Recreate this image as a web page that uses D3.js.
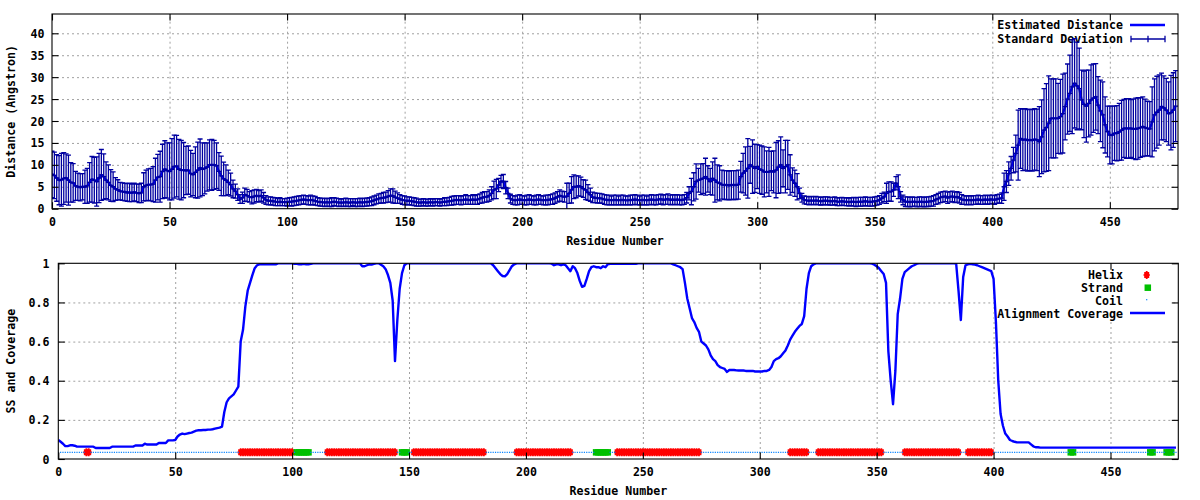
<!DOCTYPE html>
<html><head><meta charset="utf-8">
<script src="https://cdn.jsdelivr.net/npm/d3@7"></script>
<style>
body{margin:0;background:#fff}
svg{display:block}
text{font-family:"DejaVu Sans Mono",monospace;font-weight:bold;font-size:11.6px;fill:#000}
</style></head><body>
<svg id="c" width="1200" height="500"></svg>
<script>
// ---------------- DATA ----------------
const xTicks = [0,50,100,150,200,250,300,350,400,450];
const yTicksTop = [0,5,10,15,20,25,30,35,40];
const yTicksBot = [0,0.2,0.4,0.6,0.8,1];
const yTickLabelsBot = ["0","0.2","0.4","0.6","0.8","1"];

// estimated distance per residue (0..478)
const dist = [7.8,7.6,7.0,6.5,6.6,6.9,7.0,6.5,6.0,5.9,
5.2,5.0,4.9,5.0,5.0,5.2,6.0,6.7,6.5,6.2,
7.0,7.7,7.3,6.5,6.0,5.3,5.0,4.5,4.3,4.0,
3.9,3.8,3.7,3.7,3.6,3.8,3.6,3.5,3.6,5.0,
5.3,5.5,5.5,5.6,6.5,7.2,7.3,8.5,9.0,8.7,
8.5,9.0,9.6,9.7,9.0,8.8,8.8,8.7,8.8,8.0,
7.8,8.3,8.8,9.3,9.0,9.2,9.5,10.0,10.0,10.0,
9.8,8.5,7.5,6.8,6.5,6.0,5.5,4.5,4.0,3.2,
2.2,2.5,3.2,3.0,2.7,2.6,2.8,3.0,2.8,3.0,
2.5,2.0,1.8,1.8,1.7,1.6,1.5,1.6,1.5,1.5,
1.5,1.6,1.6,1.7,1.8,1.9,2.0,2.1,2.0,1.9,
2.0,1.9,1.8,1.6,1.5,1.5,1.4,1.5,1.4,1.5,
1.6,1.5,1.4,1.4,1.4,1.5,1.4,1.4,1.5,1.4,
1.4,1.5,1.4,1.5,1.5,1.6,1.7,1.9,2.1,2.3,
2.4,2.5,2.6,2.8,3.0,2.9,2.6,2.4,2.2,2.0,
1.9,1.8,1.8,1.7,1.6,1.5,1.4,1.4,1.5,1.4,
1.4,1.5,1.4,1.5,1.5,1.4,1.5,1.6,1.6,1.7,
1.8,1.9,2.0,2.0,1.9,2.0,2.1,2.0,2.0,2.1,
2.0,2.1,2.3,2.5,2.7,2.7,3.0,3.5,4.3,4.5,
5.4,6.2,6.2,4.8,3.5,2.3,2.0,1.9,2.0,2.1,
2.0,1.9,2.0,2.1,2.0,1.9,2.0,2.1,2.0,1.9,
2.0,2.0,2.1,2.2,2.4,2.7,3.0,2.8,2.7,2.8,
3.5,4.3,5.0,5.0,5.2,5.0,4.6,4.3,3.7,3.2,
2.6,2.5,2.4,2.4,2.3,2.1,2.0,2.0,1.9,2.0,
2.0,1.9,2.0,2.0,1.9,1.9,2.0,2.0,2.1,2.0,
1.9,2.0,2.0,1.9,2.0,2.1,2.0,2.0,2.1,2.2,
2.0,2.1,2.2,2.0,2.1,2.0,2.1,2.0,2.0,2.1,
2.5,3.5,3.9,5.0,6.2,6.5,6.7,6.9,7.3,6.8,
6.2,6.9,6.5,6.0,5.8,5.5,5.4,5.4,5.3,5.4,
5.4,5.4,5.5,7.3,8.1,8.6,9.2,10.0,9.6,9.2,
9.6,9.0,8.8,8.4,8.4,8.4,8.6,8.4,8.8,9.5,
10.0,9.2,9.6,10.0,7.7,6.5,5.8,5.0,3.5,2.5,
2.0,1.9,1.8,1.9,1.8,1.9,1.8,1.7,1.8,1.8,
1.8,1.7,1.7,1.8,1.6,1.6,1.7,1.6,1.6,1.5,
1.6,1.6,1.5,1.6,1.6,1.6,1.7,1.6,1.6,1.6,
1.7,1.8,2.0,2.4,2.7,3.5,3.9,3.9,4.3,5.8,
5.0,2.7,2.0,1.6,1.6,1.5,1.6,1.6,1.5,1.6,
1.6,1.5,1.6,1.6,1.7,1.8,2.1,2.3,2.6,2.7,
2.8,2.5,2.7,2.8,2.6,2.7,2.5,2.1,2.0,1.9,
2.0,1.9,2.0,2.0,2.1,2.0,2.0,2.1,2.0,2.1,
2.1,2.0,2.2,2.3,2.4,5.0,6.2,8.0,9.2,11.1,
12.6,14.5,16.0,15.7,15.8,15.6,15.7,15.6,15.8,15.7,
15.3,16.4,17.9,18.5,19.5,20.6,20.6,20.6,20.6,21.0,
21.7,23.3,25.0,26.3,27.8,28.6,28.0,27.4,24.8,23.8,
23.4,24.0,24.8,25.2,25.5,23.6,22.3,21.4,19.1,17.6,
16.8,16.8,17.2,17.2,17.5,17.9,18.3,18.3,18.3,18.3,
18.2,18.2,18.3,18.5,18.7,18.5,18.3,18.2,19.8,21.4,
22.0,22.5,23.3,23.0,22.5,21.7,21.9,22.5,23.4];

// standard deviation per residue
const sdev = [5.3,5.3,5.3,5.6,6.0,5.9,5.5,5.7,4.5,4.4,
3.3,3.1,3.1,3.0,3.8,4.0,4.5,5.2,5.2,5.6,
5.6,5.8,5.2,4.2,4.0,3.6,3.4,2.6,2.3,2.0,
2.0,2.0,2.0,2.1,2.0,2.0,2.0,2.1,2.2,3.2,
3.5,3.6,3.7,4.0,5.0,5.2,5.8,6.2,6.5,6.3,
6.5,7.0,7.2,7.0,6.8,6.8,6.3,5.5,5.5,5.3,
4.8,5.8,6.4,6.6,6.0,5.8,5.5,5.7,5.8,5.6,
5.2,4.3,4.5,3.8,3.5,2.8,2.6,2.0,1.6,1.3,
1.0,1.3,1.5,1.4,1.2,1.5,1.5,1.4,1.3,1.3,
1.2,1.0,0.9,0.9,0.9,0.9,0.8,0.9,0.8,0.8,
0.9,0.9,1.0,1.0,1.0,1.0,1.0,1.0,1.0,1.0,
1.1,1.0,1.0,0.9,0.9,0.9,0.9,0.9,0.9,1.0,
0.9,0.9,0.9,0.8,0.9,0.9,0.9,0.9,0.8,0.9,
0.9,0.9,0.9,0.9,0.9,0.9,1.0,1.0,1.0,1.1,
1.1,1.2,1.2,1.3,1.5,1.6,1.4,1.2,1.0,1.0,
1.0,0.9,0.9,0.9,0.9,0.9,0.8,0.8,0.8,0.8,
0.8,0.8,0.8,0.8,0.8,0.8,0.8,0.9,0.9,0.9,
1.0,1.0,1.0,1.0,1.0,1.0,1.1,1.0,1.0,1.1,
1.0,1.1,1.1,1.2,1.2,1.2,1.3,1.5,2.0,2.2,
1.5,1.4,1.6,1.4,1.2,1.0,1.0,1.0,1.1,1.1,
1.0,1.0,1.1,1.1,1.0,1.0,1.1,1.1,1.0,1.0,
1.1,1.1,1.1,1.2,1.2,1.2,1.3,1.2,1.2,3.0,
2.3,3.0,2.7,2.5,2.3,2.2,2.0,2.2,1.8,1.5,
1.2,1.1,1.1,1.1,1.1,1.1,1.1,1.1,1.0,1.1,
1.1,1.0,1.1,1.1,1.0,1.0,1.1,1.1,1.1,1.1,
1.0,1.1,1.1,1.0,1.1,1.1,1.1,1.1,1.1,1.1,
1.1,1.1,1.2,1.1,1.1,1.1,1.1,1.1,1.1,1.1,
1.2,1.5,3.0,3.2,4.0,2.7,3.5,3.4,4.2,3.0,
3.0,3.8,5.0,4.0,4.0,3.3,3.3,3.3,3.3,3.3,
3.3,3.3,3.3,3.5,4.5,5.5,6.8,4.2,6.1,5.5,
5.0,5.5,5.5,5.7,4.8,5.6,4.5,4.8,6.3,6.0,
6.4,4.2,6.0,5.6,4.6,2.8,3.0,3.0,1.2,1.0,
0.9,0.9,0.9,0.9,0.9,0.9,0.9,0.9,0.9,0.9,
0.9,0.9,0.9,0.9,0.9,0.9,0.9,0.9,0.9,0.9,
0.9,1.0,1.0,1.0,1.0,1.0,1.0,1.0,1.0,1.0,
1.0,1.0,1.0,1.1,1.1,2.3,2.2,2.2,1.5,1.5,
2.7,1.2,1.1,1.1,1.1,1.1,1.1,1.0,1.1,1.1,
1.1,1.1,1.1,1.1,1.1,1.2,1.1,1.2,1.2,1.2,
1.2,1.3,1.2,1.2,1.2,1.2,1.2,1.1,1.0,1.0,
1.0,1.0,1.0,1.0,1.0,1.0,1.0,1.0,1.0,1.0,
1.0,1.0,1.0,1.0,1.2,3.1,2.5,2.7,2.7,2.9,
4.2,8.0,6.8,7.0,7.0,7.0,7.0,7.0,7.0,7.0,
8.0,8.4,9.5,10.0,10.8,9.0,9.0,9.0,8.0,8.5,
9.0,7.6,8.0,8.7,10.7,10.2,10.0,9.2,6.8,7.6,
8.2,7.6,8.0,7.8,7.6,6.5,7.0,7.5,6.4,5.8,
6.6,6.6,6.2,6.3,6.5,6.8,6.6,6.8,6.8,6.6,
6.8,7.0,7.0,6.8,6.8,6.5,6.2,6.2,8.0,8.2,
8.2,8.0,7.6,7.3,7.2,7.2,8.5,8.5,8.1];

// alignment coverage per residue
const coverage = [.097,.088,.078,.066,.066,.070,.070,.068,.063,.063,
.063,.063,.063,.063,.063,.063,.056,.056,.056,.056,
.056,.056,.056,.063,.063,.063,.063,.063,.063,.063,
.063,.063,.063,.069,.069,.069,.069,.078,.074,.074,
.074,.074,.074,.082,.082,.082,.082,.095,.095,.095,
.097,.115,.125,.130,.127,.130,.133,.135,.140,.145,
.147,.147,.148,.148,.150,.150,.152,.155,.158,.160,
.165,.240,.290,.310,.320,.330,.350,.370,.600,.660,
.780,.860,.900,.940,.975,.990,.995,.995,.995,.995,
.995,.995,.995,.995,1,1,1,1,1,1,
1,.997,.997,.995,.995,.997,.995,.995,.997,1,
1,1,1,1,1,1,1,1,1,1,
1,1,1,1,1,1,1,1,1,1,
.985,.985,.990,.995,.993,.997,1,1,.993,.985,
.970,.940,.900,.810,.500,.710,.870,.950,.990,1,
1,1,1,1,1,1,1,1,1,1,
1,1,1,1,1,1,1,1,1,1,
1,1,1,1,1,1,1,1,1,1,
1,1,1,1,1,1,.990,.975,.960,.945,
.935,.933,.945,.965,.985,.995,1,1,1,1,
1,1,1,1,1,1,1,1,1,1,
1,.998,.990,.995,.995,.990,.995,.990,.975,.960,
.985,.975,.950,.910,.880,.885,.920,.960,.980,.985,
.980,.980,.975,.985,.980,.995,.997,.997,.997,.997,
.997,.997,.997,.997,.997,.997,.997,.997,1,1,
1,1,1,1,1,1,1,1,1,1,
1,1,1,.995,.990,.985,.980,.970,.900,.820,
.770,.720,.700,.670,.650,.600,.590,.580,.560,.530,
.510,.500,.480,.470,.465,.460,.445,.455,.455,.455,
.453,.452,.452,.452,.450,.450,.450,.450,.447,.447,
.447,.447,.450,.450,.455,.470,.500,.510,.515,.525,
.540,.555,.580,.610,.630,.650,.665,.680,.690,.730,
.870,.950,.985,.995,1,1,1,1,1,1,
1,1,1,1,1,1,1,1,1,1,
1,1,1,1,1,1,1,1,.998,.993,
.985,.975,.960,.945,.900,.550,.400,.280,.450,.740,
.820,.920,.955,.965,.975,.985,.990,.997,1,1,
1,1,1,1,1,1,1,1,1,1,
1,1,1,1,.998,.860,.710,.930,.990,.995,
.997,.995,.993,.990,.985,.980,.975,.970,.965,.960,
.920,.700,.400,.230,.170,.130,.115,.097,.092,.088,
.085,.085,.085,.085,.085,.085,.075,.065,.060,.060,
.058,.058,.058,.058,.058,.058,.058,.058,.058,.058,
.058,.058,.058,.058,.058,.058,.058,.058,.058,.058,
.058,.058,.058,.058,.058,.058,.058,.058,.058,.058,
.058,.058,.058,.058,.058,.058,.058,.058,.058,.058,
.058,.058,.058,.058,.058,.058,.058,.058,.058,.058,
.058,.058,.058,.058,.058,.058,.058,.058,.058];

// secondary structure segments [first residue, last residue]
const helixSegments = [[12,13],[78,100],[115,144],[152,182],[196,219],[239,274],[313,320],[325,352],[362,385],[389,399]];
const strandSegments = [[102,107],[147,149],[230,235],[433,434],[467,468],[474,476]];
const ssLevel = 0.034;

// ---------------- DRAW ----------------
const svg = d3.select('#c');
svg.append('rect').attr('width',1200).attr('height',500).attr('fill','#fff');

const xT = d3.scaleLinear().domain([0,479]).range([52,1178]);
const yT = d3.scaleLinear().domain([0,44.4]).range([208.7,14]);
const xB = d3.scaleLinear().domain([0,479]).range([58.3,1178.3]);
const yB = d3.scaleLinear().domain([0,1]).range([459,263.3]);

const GRID = '#a0a0a0';
const TICK = 6.5;

function grid(x, y, yt) {
  const [x0,x1] = x.range(), [y0,y1] = y.range();
  const g = svg.append('g');
  g.append('g').attr('transform',`translate(0,${y0})`)
    .call(d3.axisBottom(x).tickValues(xTicks.filter(v => x(v) > x0+1 && x(v) < x1-1)).tickSize(-(y0-y1)).tickFormat(''));
  g.append('g').attr('transform',`translate(${x0},0)`)
    .call(d3.axisLeft(y).tickValues(yt.filter(v => y(v) < y0-1 && y(v) > y1+1)).tickSize(-(x1-x0)).tickFormat(''));
  g.selectAll('.domain').remove();
  g.selectAll('line').attr('stroke',GRID).attr('stroke-width',1).attr('stroke-dasharray','2,3');
}

function axes(x, y, yt, yLabels, yLabelX, xLabelY) {
  const [x0,x1] = x.range(), [y0,y1] = y.range();
  const g = svg.append('g');
  const style = sel => { sel.select('.domain').remove(); sel.selectAll('line').attr('stroke','#000').attr('stroke-width',1.1); };
  const b = g.append('g').attr('transform',`translate(0,${y0})`).call(d3.axisBottom(x).tickValues(xTicks).tickSize(-TICK).tickFormat(d3.format('d')));
  b.call(style);
  b.selectAll('text').attr('y', xLabelY - y0).attr('dy','0.35em').attr('fill','#000');
  const t = g.append('g').attr('transform',`translate(0,${y1})`).call(d3.axisTop(x).tickValues(xTicks).tickSize(-TICK).tickFormat(''));
  t.call(style);
  const l = g.append('g').attr('transform',`translate(${x0},0)`).call(d3.axisLeft(y).tickValues(yt).tickSize(-TICK).tickFormat((d,i) => yLabels[i]));
  l.call(style);
  l.selectAll('text').attr('x', yLabelX - x0).attr('dy','0.35em').attr('fill','#000');
  const r = g.append('g').attr('transform',`translate(${x1},0)`).call(d3.axisRight(y).tickValues(yt).tickSize(-TICK).tickFormat(''));
  r.call(style);
  g.selectAll('g').attr('font-family',null).attr('font-size',null);
  svg.append('rect').attr('x',x0).attr('y',y1).attr('width',x1-x0).attr('height',y0-y1)
    .attr('fill','none').attr('stroke','#000').attr('stroke-width',1.1);
}

function clip(id, x, y) {
  const [x0,x1] = x.range(), [y0,y1] = y.range();
  svg.append('clipPath').attr('id',id).append('rect').attr('x',x0).attr('y',y1).attr('width',x1-x0).attr('height',y0-y1);
}

// ---------- top panel ----------
grid(xT, yT, yTicksTop);
svg.append('rect').attr('x',994).attr('y',17).attr('width',178).attr('height',29).attr('fill','#fff');
svg.append('text').attr('x',1123).attr('y',25).attr('dy','0.35em').attr('text-anchor','end').text('Estimated Distance');
svg.append('text').attr('x',1123).attr('y',39).attr('dy','0.35em').attr('text-anchor','end').text('Standard Deviation');
svg.append('line').attr('x1',1130).attr('x2',1165).attr('y1',25).attr('y2',25).attr('stroke','#0000ff').attr('stroke-width',2.4);
const ebc = '#0000a0';
const lg = svg.append('g').attr('stroke',ebc).attr('stroke-width',1.3);
lg.append('line').attr('x1',1131).attr('x2',1165).attr('y1',39).attr('y2',39);
[1131,1165].forEach(xx => lg.append('line').attr('x1',xx).attr('x2',xx).attr('y1',35.7).attr('y2',42.3));
lg.append('line').attr('x1',1148).attr('x2',1148).attr('y1',35.7).attr('y2',42.3);

clip('clipT', xT, yT);
const dg = svg.append('g').attr('clip-path','url(#clipT)');
const line = d3.line().x((d,i) => xT(i)).y(d => yT(d));
dg.append('path').datum(dist).attr('d', line).attr('fill','none').attr('stroke','#0000ff').attr('stroke-width',2.4).attr('stroke-linejoin','round');
const eb = dg.append('g').attr('stroke',ebc).attr('stroke-width',1.3).attr('fill','none');
const pts = dist.map((m,i) => ({i, m, s: sdev[i]}));
eb.selectAll('path.bar').data(pts).join('path').attr('class','bar')
  .attr('d', d => {
    const x = xT(d.i), yl = yT(d.m - d.s), yh = yT(d.m + d.s), ym = yT(d.m);
    return `M${x},${yl}V${yh}M${x-2.5},${yh}H${x+2.5}M${x-2.5},${yl}H${x+2.5}M${x-2.5},${ym}H${x+2.5}M${x},${ym-2.5}V${ym+2.5}`;
  });
axes(xT, yT, yTicksTop, yTicksTop.map(String), 44.5, 222);
svg.append('text').attr('x', (xT.range()[0]+xT.range()[1])/2).attr('y',241).attr('dy','0.35em').attr('text-anchor','middle').text('Residue Number');
svg.append('text').attr('transform',`translate(10.5,${(yT.range()[0]+yT.range()[1])/2}) rotate(-90)`).attr('dy','0.35em').attr('text-anchor','middle').text('Distance (Angstron)');

// ---------- bottom panel ----------
grid(xB, yB, yTicksBot);
svg.append('rect').attr('x',994).attr('y',267).attr('width',178).attr('height',53).attr('fill','#fff');
[['Helix',275],['Strand',288],['Coil',301],['Alignment Coverage',313.5]].forEach(([t,yy]) =>
  svg.append('text').attr('x',1123).attr('y',yy).attr('dy','0.35em').attr('text-anchor','end').text(t));

const helixPath = 'M-2.5,-3h5v6h-5zM-0.9,-4h1.8v8h-1.8zM-3.2,-0.8h6.4v1.6h-6.4z';
const sq = 6.5;
// legend symbols
svg.append('path').attr('transform','translate(1146.7,275)').attr('d',helixPath).attr('fill','#ff0000');
svg.append('rect').attr('x',1147.8-sq/2).attr('y',287.7-sq/2).attr('width',sq).attr('height',sq).attr('fill','#00c000');
svg.append('rect').attr('x',1146.1).attr('y',299.1).attr('width',1.2).attr('height',1.2).attr('fill','#0080ff');
svg.append('line').attr('x1',1130).attr('x2',1165).attr('y1',313).attr('y2',313).attr('stroke','#0000ff').attr('stroke-width',2.4);

clip('clipB', xB, yB);
const bg = svg.append('g').attr('clip-path','url(#clipB)');
const inSeg = (segs, r) => segs.some(([a,b]) => r >= a && r <= b);
const residues = coverage.map((_,i) => i);
const helixRes = residues.filter(r => inSeg(helixSegments, r));
const strandRes = residues.filter(r => inSeg(strandSegments, r));
const coilRes = residues.filter(r => !inSeg(helixSegments, r) && !inSeg(strandSegments, r));
const yss = yB(ssLevel);
bg.append('g').selectAll('path').data(helixRes).join('path')
  .attr('transform', r => `translate(${xB(r)},${yss})`).attr('d', helixPath).attr('fill','#ff0000');
bg.append('g').selectAll('rect').data(strandRes).join('rect')
  .attr('x', r => xB(r)-sq/2).attr('y', yss-sq/2).attr('width', sq).attr('height', sq).attr('fill','#00c000');
bg.append('g').selectAll('rect').data(coilRes).join('rect')
  .attr('x', r => xB(r)-0.6).attr('y', yss-0.6).attr('width',1.2).attr('height',1.2).attr('fill','#0080ff');
const cline = d3.line().x((d,i) => xB(i)).y(d => yB(d));
bg.append('path').datum(coverage).attr('d', cline).attr('fill','none').attr('stroke','#0000ff').attr('stroke-width',2.4).attr('stroke-linejoin','round');

axes(xB, yB, yTicksBot, yTickLabelsBot, 49.5, 472);
svg.append('text').attr('x', (xB.range()[0]+xB.range()[1])/2).attr('y',491).attr('dy','0.35em').attr('text-anchor','middle').text('Residue Number');
svg.append('text').attr('transform',`translate(10.5,${(yB.range()[0]+yB.range()[1])/2}) rotate(-90)`).attr('dy','0.35em').attr('text-anchor','middle').text('SS and Coverage');
</script>
</body></html>
